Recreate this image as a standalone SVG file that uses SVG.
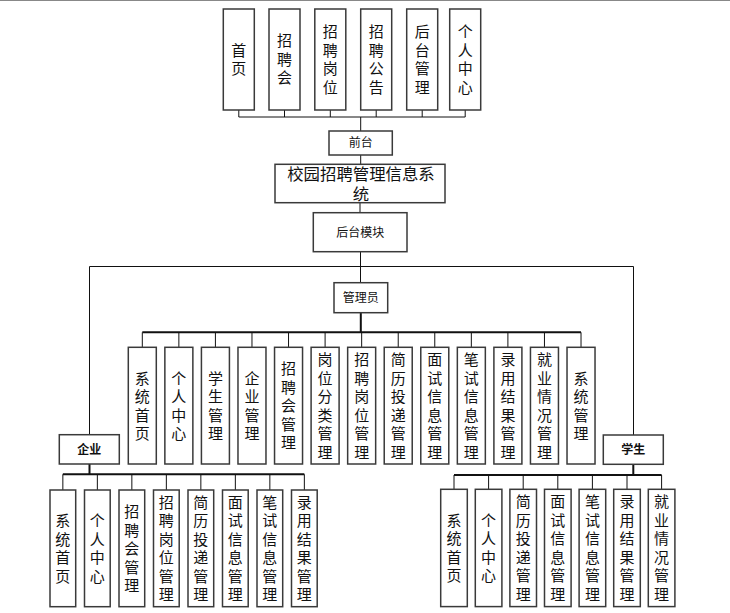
<svg xmlns="http://www.w3.org/2000/svg" width="730" height="613" viewBox="0 0 730 613">
<style>
.b{fill:#fff;stroke:#3a3a3a;stroke-width:1.5}
.c{fill:none;stroke:#111;stroke-width:1}
.t{stroke-width:2}
.v{font-family:"Noto Sans CJK SC","Noto Sans",sans-serif;font-size:15px;fill:#111;text-anchor:middle;writing-mode:vertical-rl;letter-spacing:3.5px}
.s{font-family:"Noto Sans CJK SC","Noto Sans",sans-serif;font-size:12px;fill:#111;text-anchor:middle}
.h{font-family:"Noto Sans CJK SC","Noto Sans",sans-serif;font-size:16.4px;fill:#111;text-anchor:middle}
</style>
<rect width="730" height="613" fill="#fff"/>
<line x1="0" y1="0.5" x2="730" y2="0.5" stroke="#888" stroke-width="1"/>
<g id="connectors">
<path class="c" d="M238.8 110V117M284.5 110V117M330.3 110V117M376.2 110V117M422.2 110V117M465.2 110V117M238.8 117H465.2M360.7 117V131"/>
<path class="c" d="M360.7 155V164M360 202.5V212.7M360.5 251.7V282.7M89.5 266.5H633.5M89.5 266.5V434.7M633.5 266.5V435"/>
<path class="c t" d="M360.8 312.7V332.3M142.3 332.3H581"/>
<path class="c" d="M142.3 332.3V347.3M178.86 332.3V347.3M215.42 332.3V347.3M251.98 332.3V347.3M288.54 332.3V347.3M325.1 332.3V347.3M361.66 332.3V347.3M398.22 332.3V347.3M434.78 332.3V347.3M471.34 332.3V347.3M507.9 332.3V347.3M544.46 332.3V347.3M581.02 332.3V347.3"/>
<path class="c t" d="M89.5 464V474.3M62.85 474.3H304.35M633.3 464.3V475M454 475H661.6"/>
<path class="c" d="M62.85 474.3V490M97.35 474.3V490M131.85 474.3V490M166.35 474.3V490M200.85 474.3V490M235.35 474.3V490M269.85 474.3V490M304.35 474.3V490"/>
<path class="c" d="M454 475V489.3M488.6 475V489.3M523.2 475V489.3M557.8 475V489.3M592.4 475V489.3M627 475V489.3M661.6 475V489.3"/>
</g>
<g id="top-1"><rect class="b" x="223.3" y="9" width="31" height="101"/><text class="v" x="238.8" y="61">首页</text></g>
<g id="top-2"><rect class="b" x="269" y="9" width="31" height="101"/><text class="v" x="284.5" y="61">招聘会</text></g>
<g id="top-3"><rect class="b" x="314.8" y="9" width="31" height="101"/><text class="v" x="330.3" y="61">招聘岗位</text></g>
<g id="top-4"><rect class="b" x="360.7" y="9" width="31" height="101"/><text class="v" x="376.2" y="61">招聘公告</text></g>
<g id="top-5"><rect class="b" x="406.7" y="9" width="31" height="101"/><text class="v" x="422.2" y="61">后台管理</text></g>
<g id="top-6"><rect class="b" x="449.7" y="9" width="31" height="101"/><text class="v" x="465.2" y="61">个人中心</text></g>
<g id="qiantai"><rect class="b" x="329" y="131" width="63.3" height="24"/><text class="s" x="360.7" y="147.3">前台</text></g>
<g id="system"><rect class="b" x="275" y="164.3" width="170" height="38.4"/><text class="h"><tspan x="361" y="180">校园招聘管理信息系</tspan><tspan x="361" y="200">统</tspan></text></g>
<g id="houtai"><rect class="b" x="313.3" y="212.7" width="93.7" height="39"/><text class="s" x="360.2" y="236.5">后台模块</text></g>
<g id="admin"><rect class="b" x="334" y="282.7" width="53.7" height="30"/><text class="s" x="360.8" y="302">管理员</text></g>
<g id="admin-1"><rect class="b" x="128.3" y="347.3" width="28" height="116.7"/><text class="v" x="142.3" y="407.4">系统首页</text></g>
<g id="admin-2"><rect class="b" x="164.86" y="347.3" width="28" height="116.7"/><text class="v" x="178.86" y="407.4">个人中心</text></g>
<g id="admin-3"><rect class="b" x="201.42" y="347.3" width="28" height="116.7"/><text class="v" x="215.42" y="407.4">学生管理</text></g>
<g id="admin-4"><rect class="b" x="237.98" y="347.3" width="28" height="116.7"/><text class="v" x="251.98" y="407.4">企业管理</text></g>
<g id="admin-5"><rect class="b" x="274.54" y="347.3" width="28" height="116.7"/><text class="v" x="288.54" y="407.4">招聘会管理</text></g>
<g id="admin-6"><rect class="b" x="311.1" y="347.3" width="28" height="116.7"/><text class="v" x="325.1" y="407.4">岗位分类管理</text></g>
<g id="admin-7"><rect class="b" x="347.66" y="347.3" width="28" height="116.7"/><text class="v" x="361.66" y="407.4">招聘岗位管理</text></g>
<g id="admin-8"><rect class="b" x="384.22" y="347.3" width="28" height="116.7"/><text class="v" x="398.22" y="407.4">简历投递管理</text></g>
<g id="admin-9"><rect class="b" x="420.78" y="347.3" width="28" height="116.7"/><text class="v" x="434.78" y="407.4">面试信息管理</text></g>
<g id="admin-10"><rect class="b" x="457.34" y="347.3" width="28" height="116.7"/><text class="v" x="471.34" y="407.4">笔试信息管理</text></g>
<g id="admin-11"><rect class="b" x="493.9" y="347.3" width="28" height="116.7"/><text class="v" x="507.9" y="407.4">录用结果管理</text></g>
<g id="admin-12"><rect class="b" x="530.46" y="347.3" width="28" height="116.7"/><text class="v" x="544.46" y="407.4">就业情况管理</text></g>
<g id="admin-13"><rect class="b" x="567.02" y="347.3" width="28" height="116.7"/><text class="v" x="581.02" y="407.4">系统管理</text></g>
<g id="qiye"><rect class="b" x="59.3" y="434.7" width="60" height="29.3"/><text class="s" x="89.3" y="453.8" font-weight="bold">企业</text></g>
<g id="xuesheng"><rect class="b" x="603.3" y="435" width="60" height="29.3"/><text class="s" x="633.3" y="454" font-weight="bold">学生</text></g>
<g id="qiye-1"><rect class="b" x="50" y="490" width="25.7" height="116.7"/><text class="v" x="62.85" y="550.1">系统首页</text></g>
<g id="qiye-2"><rect class="b" x="84.5" y="490" width="25.7" height="116.7"/><text class="v" x="97.35" y="550.1">个人中心</text></g>
<g id="qiye-3"><rect class="b" x="119" y="490" width="25.7" height="116.7"/><text class="v" x="131.85" y="550.1">招聘会管理</text></g>
<g id="qiye-4"><rect class="b" x="153.5" y="490" width="25.7" height="116.7"/><text class="v" x="166.35" y="550.1">招聘岗位管理</text></g>
<g id="qiye-5"><rect class="b" x="188" y="490" width="25.7" height="116.7"/><text class="v" x="200.85" y="550.1">简历投递管理</text></g>
<g id="qiye-6"><rect class="b" x="222.5" y="490" width="25.7" height="116.7"/><text class="v" x="235.35" y="550.1">面试信息管理</text></g>
<g id="qiye-7"><rect class="b" x="257" y="490" width="25.7" height="116.7"/><text class="v" x="269.85" y="550.1">笔试信息管理</text></g>
<g id="qiye-8"><rect class="b" x="291.5" y="490" width="25.7" height="116.7"/><text class="v" x="304.35" y="550.1">录用结果管理</text></g>
<g id="xs-1"><rect class="b" x="440.7" y="489.3" width="26.6" height="117.3"/><text class="v" x="454" y="549.7">系统首页</text></g>
<g id="xs-2"><rect class="b" x="475.3" y="489.3" width="26.6" height="117.3"/><text class="v" x="488.6" y="549.7">个人中心</text></g>
<g id="xs-3"><rect class="b" x="509.9" y="489.3" width="26.6" height="117.3"/><text class="v" x="523.2" y="549.7">简历投递管理</text></g>
<g id="xs-4"><rect class="b" x="544.5" y="489.3" width="26.6" height="117.3"/><text class="v" x="557.8" y="549.7">面试信息管理</text></g>
<g id="xs-5"><rect class="b" x="579.1" y="489.3" width="26.6" height="117.3"/><text class="v" x="592.4" y="549.7">笔试信息管理</text></g>
<g id="xs-6"><rect class="b" x="613.7" y="489.3" width="26.6" height="117.3"/><text class="v" x="627" y="549.7">录用结果管理</text></g>
<g id="xs-7"><rect class="b" x="648.3" y="489.3" width="26.6" height="117.3"/><text class="v" x="661.6" y="549.7">就业情况管理</text></g>
</svg>
